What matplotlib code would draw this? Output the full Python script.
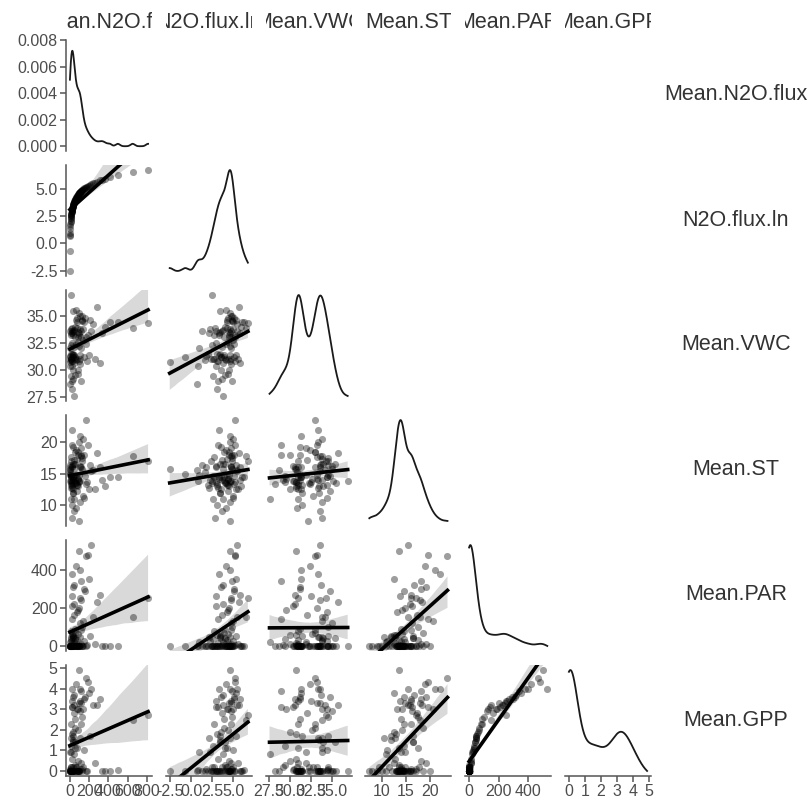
import numpy as np
import matplotlib
matplotlib.use('Agg')
import matplotlib.pyplot as plt
import seaborn as sns

plt.rcParams['font.family'] = 'Liberation Sans'
plt.rcParams['axes.unicode_minus'] = False

# one entry per observation, same order in every list
flux = [0.08, 0.50, 1.99, 2.20, 2.51, 3.71, 5.00, 5.93, 7.03, 8.00,
        9.03, 9.97, 11.13, 11.94, 12.81, 13.74, 14.88, 15.64, 16.78, 17.81,
        18.73, 19.49, 20.49, 21.33, 22.20, 23.34, 24.53, 25.79, 27.11, 28.22,
        29.37, 30.57, 31.50, 32.46, 33.78, 35.16, 36.60, 38.09, 39.65, 41.26,
        42.95, 44.70, 46.53, 48.42, 50.40, 51.94, 53.52, 56.26, 58.56, 60.95,
        63.43, 66.02, 68.72, 71.52, 74.44, 76.71, 79.04, 81.45, 83.93, 86.49,
        89.12, 91.84, 93.69, 95.58, 97.51, 99.48, 101.5, 103.5, 105.6, 107.8,
        110.0, 112.2, 114.4, 116.8, 119.1, 121.5, 125.2, 129.0, 133.0, 138.4,
        144.0, 151.4, 157.6, 164.0, 170.7, 177.7, 186.8, 196.4, 208.5, 221.4,
        237.5, 257.2, 284.3, 314.2, 337.0, 365.0, 411.6, 497.7, 652.0, 812.4]
flux_ln = [-2.53, -0.69, 0.69, 0.79, 0.92, 1.31, 1.61, 1.78, 1.95, 2.08,
           2.20, 2.30, 2.41, 2.48, 2.55, 2.62, 2.70, 2.75, 2.82, 2.88,
           2.93, 2.97, 3.02, 3.06, 3.10, 3.15, 3.20, 3.25, 3.30, 3.34,
           3.38, 3.42, 3.45, 3.48, 3.52, 3.56, 3.60, 3.64, 3.68, 3.72,
           3.76, 3.80, 3.84, 3.88, 3.92, 3.95, 3.98, 4.03, 4.07, 4.11,
           4.15, 4.19, 4.23, 4.27, 4.31, 4.34, 4.37, 4.40, 4.43, 4.46,
           4.49, 4.52, 4.54, 4.56, 4.58, 4.60, 4.62, 4.64, 4.66, 4.68,
           4.70, 4.72, 4.74, 4.76, 4.78, 4.80, 4.83, 4.86, 4.89, 4.93,
           4.97, 5.02, 5.06, 5.10, 5.14, 5.18, 5.23, 5.28, 5.34, 5.40,
           5.47, 5.55, 5.65, 5.75, 5.82, 5.90, 6.02, 6.21, 6.48, 6.70]
vwc = [30.7, 31.2, 28.7, 30.4, 32.0, 33.6, 30.9, 31.3, 31.5, 33.4,
       33.8, 31.0, 32.3, 36.9, 31.0, 29.4, 33.2, 31.0, 33.9, 32.5,
       30.4, 33.6, 30.8, 28.2, 31.5, 30.8, 29.0, 33.4, 31.4, 33.2,
       33.5, 35.4, 31.5, 30.0, 31.2, 31.2, 29.2, 32.1, 33.6, 27.6,
       30.6, 33.7, 31.4, 33.0, 31.2, 34.0, 29.5, 31.0, 35.5, 30.9,
       32.4, 34.6, 33.9, 34.4, 31.0, 34.8, 29.6, 32.6, 33.0, 33.5,
       30.0, 33.2, 35.2, 33.4, 32.2, 30.8, 33.8, 31.4, 31.0, 30.5,
       35.0, 33.6, 33.0, 32.0, 29.0, 34.6, 34.5, 35.0, 33.8, 32.8,
       34.4, 31.2, 34.8, 32.4, 33.0, 30.8, 33.2, 31.4, 34.6, 33.6,
       34.2, 31.0, 35.8, 30.6, 33.4, 34.0, 34.4, 34.4, 33.9, 34.3]
st = [15.8, 14.9, 15.5, 13.8, 14.8, 16.4, 15.2, 16.0, 13.2, 12.8,
      14.0, 17.0, 13.5, 13.8, 11.0, 14.6, 17.6, 14.5, 8.0, 13.7,
      16.2, 16.0, 13.0, 13.4, 10.0, 12.8, 19.6, 22.0, 14.4, 14.2,
      12.0, 16.5, 12.0, 12.6, 19.2, 14.5, 14.0, 17.2, 9.0, 11.0,
      15.8, 16.6, 14.5, 18.5, 14.0, 16.5, 13.6, 13.5, 13.5, 9.5,
      18.8, 14.8, 17.4, 13.2, 13.2, 12.2, 14.2, 14.1, 18.5, 13.0,
      18.0, 14.8, 13.8, 20.0, 7.5, 13.6, 10.5, 21.0, 16.0, 13.9,
      16.2, 17.8, 16.0, 19.0, 18.0, 17.5, 17.0, 15.8, 20.5, 11.5,
      11.2, 18.0, 14.6, 13.3, 23.5, 13.6, 19.5, 12.5, 16.4, 15.4,
      15.5, 12.5, 18.2, 16.0, 14.0, 13.0, 14.4, 14.4, 17.8, 17.0]
par = [0, 0, 0, 0, 20, 0, 0, 0, 0, 45,
       25, 0, 0, 0, 0, 35, 0, 80, 0, 260,
       210, 0, 55, 0, 0, 15, 140, 380, 0, 0,
       45, 40, 50, 60, 310, 0, 5, 160, 0, 20,
       220, 320, 0, 70, 90, 40, 0, 30, 0, 0,
       420, 0, 30, 180, 0, 0, 190, 65, 0, 0,
       12, 200, 0, 0, 0, 500, 45, 400, 250, 0,
       120, 240, 85, 10, 340, 100, 0, 0, 130, 0,
       25, 300, 290, 0, 470, 5, 480, 350, 50, 530,
       150, 10, 230, 270, 0, 0, 0, 0, 150, 250]
gpp = [0.0, 0.0, 0.0, 0.05, 0.9, 0.0, 0.0, 0.1, 0.0, 1.6,
       0.9, 0.0, 0.2, 0.0, 0.0, 1.2, 0.2, 2.3, 0.0, 3.4,
       3.1, 0.0, 1.8, 0.0, 0.0, 0.6, 3.1, 4.0, 0.0, 0.0,
       1.5, 1.4, 1.7, 1.9, 3.6, 0.0, 0.2, 2.8, 0.0, 0.8,
       3.2, 3.7, 0.0, 2.1, 2.5, 1.4, 0.3, 1.1, 0.0, 0.2,
       4.2, 0.2, 1.1, 3.0, 0.0, 0.0, 3.0, 2.0, 0.0, 0.0,
       0.5, 3.3, 0.0, 0.0, 0.0, 4.9, 1.6, 4.0, 3.4, 0.1,
       2.9, 3.3, 2.3, 0.4, 3.9, 2.6, 0.1, 0.0, 3.0, 0.2,
       1.0, 3.5, 3.6, 0.0, 4.5, 0.0, 4.3, 3.8, 1.7, 4.0,
       3.2, 0.4, 3.2, 3.5, 0.0, 0.0, 0.0, 0.05, 2.45, 2.7]

names = ['Mean.N2O.flux', 'N2O.flux.ln', 'Mean.VWC', 'Mean.ST', 'Mean.PAR', 'Mean.GPP']
columns = [flux, flux_ln, vwc, st, par, gpp]

ticks = [[0, 200, 400, 600, 800], [-2.5, 0, 2.5, 5.0], [27.5, 30, 32.5, 35],
         [10, 15, 20], [0, 200, 400], [0, 1, 2, 3, 4, 5]]
tick_labels = [['0', '200', '400', '600', '800'], ['-2.5', '0.0', '2.5', '5.0'],
               ['27.5', '30.0', '32.5', '35.0'], ['10', '15', '20'],
               ['0', '200', '400'], ['0', '1', '2', '3', '4', '5']]
dens_ticks = [0, 0.002, 0.004, 0.006, 0.008]
dens_labels = ['0.000', '0.002', '0.004', '0.006', '0.008']


def density(v, adjust=0.85):
    # gaussian kde with R's nrd0 bandwidth, cut at the data range
    v = np.asarray(v, float)
    n = len(v)
    iqr = np.percentile(v, 75) - np.percentile(v, 25)
    bw = adjust * 0.9 * min(v.std(ddof=1), iqr / 1.34) * n ** -0.2
    g = np.linspace(v.min(), v.max(), 512)
    d = np.exp(-0.5 * ((g[:, None] - v) / bw) ** 2).sum(1) / (n * bw * np.sqrt(2 * np.pi))
    return g, d


def lims(v):
    lo, hi = min(v), max(v)
    pad = 0.05 * (hi - lo)
    return lo - pad, hi + pad


W, H = 811, 807
fig = plt.figure(figsize=(W / 100, H / 100), dpi=100)
txt = '#4d4d4d'
axc = '#555555'

for i in range(6):
    for j in range(i + 1):
        left = 66 + 99.8 * j
        top = 40 + 125 * i
        ax = fig.add_axes([left / W, 1 - (top + 111) / H, 86 / W, 111 / H])
        x = np.asarray(columns[j], float)
        if i == j:
            g, d = density(x)
            ax.plot(g, d, color='#1a1a1a', lw=1.3)
            r = d.max() - d.min()
            ax.set_ylim(d.min() - 0.05 * r, d.max() + 0.05 * r)
        else:
            y = np.asarray(columns[i], float)
            sns.regplot(x=x, y=y, ax=ax, color='black', ci=95, seed=3,
                        scatter_kws={'s': 26, 'alpha': 0.38, 'linewidths': 0},
                        line_kws={'lw': 2.6})
            ax.set_ylim(*lims(y))
        ax.set_xlim(*lims(x))
        ax.set_xticks(ticks[j])
        ax.set_xticklabels(tick_labels[j])
        if i == 0 and j == 0:
            ax.set_yticks(dens_ticks)
            ax.set_yticklabels(dens_labels)
        elif i != j:
            ax.set_yticks(ticks[i])
            ax.set_yticklabels(tick_labels[i])
        ax.set_facecolor('none')
        for s in ['top', 'right']:
            ax.spines[s].set_visible(False)
        ax.spines['left'].set_visible(j == 0)
        ax.spines['bottom'].set_visible(i == 5)
        for s in ['left', 'bottom']:
            ax.spines[s].set_color(axc)
            ax.spines[s].set_linewidth(1.1)
        ax.tick_params(left=(j == 0), labelleft=(j == 0),
                       bottom=(i == 5), labelbottom=(i == 5),
                       direction='out', length=4, width=1.1, color=axc,
                       labelcolor=txt, labelsize=11.5, pad=2)
        ax.set_xlabel('')
        ax.set_ylabel('')

# column strip labels, clipped to the panel width
for j, name in enumerate(names):
    left = 66 + 99.8 * j
    tax = fig.add_axes([left / W, 1 - 36 / H, 86 / W, 30 / H])
    tax.axis('off')
    tax.text(0.5, 0.45, name, ha='center', va='center', transform=tax.transAxes,
             fontsize=15.5, color='#333333', clip_on=True)

# row labels on the right
for i, name in enumerate(names):
    cy = 40 + 125 * i + 55
    fig.text(736 / W, 1 - cy / H, name, ha='center', va='center',
             fontsize=15.5, color='#333333')

fig.savefig('out.png', dpi=100)
